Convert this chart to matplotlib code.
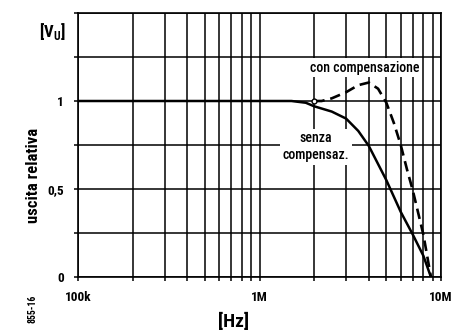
import matplotlib
matplotlib.use("Agg")
import matplotlib.pyplot as plt
import matplotlib.ticker as ticker
import matplotlib.font_manager as fm

# curve without compensation (frequency in Hz, relative output)
freq_senza = [1e5, 1.5e6, 1.8e6, 2e6, 2.5e6, 3e6, 3.5e6, 4e6, 5e6, 6e6, 7e6, 8e6, 8.8e6]
val_senza = [1.0, 1.0, 0.99, 0.97, 0.94, 0.90, 0.83, 0.745, 0.55, 0.37, 0.24, 0.12, 0.0]

# curve with compensation
freq_con = [2e6, 2.2e6, 2.5e6, 3e6, 3.5e6, 4e6, 4.5e6, 5e6, 5.5e6, 6e6, 6.5e6, 7e6, 8e6, 8.8e6]
val_con = [1.0, 1.0, 1.015, 1.05, 1.09, 1.105, 1.07, 0.99, 0.875, 0.75, 0.61, 0.49, 0.24, 0.0]

x_tick_pos = [1e5, 1e6, 1e7]
x_tick_labels = ["100k", "1M", "10M"]
y_tick_pos = [0, 0.5, 1.0]
y_tick_labels = ["0", "0,5", "1"]

# pick a narrow font if one is around
available = {f.name for f in fm.fontManager.ttflist}
narrow = "DejaVu Sans"
for cand in ["Roboto Condensed", "Barlow Semi Condensed", "Liberation Sans Narrow",
             "Saira SemiCondensed", "Sofia Sans Condensed"]:
    if cand in available:
        narrow = cand
        break
FONT = [narrow, "DejaVu Sans"]
plt.rcParams["font.family"] = FONT
plt.rcParams["mathtext.fontset"] = "custom"
plt.rcParams["mathtext.rm"] = narrow + ":bold"

fig = plt.figure(figsize=(4.54, 3.31), dpi=100)
ax = fig.add_axes([78 / 454, 1 - 277 / 331, 363 / 454, 264 / 331])

ax.set_xscale("log")
ax.set_xlim(1e5, 1e7)
ax.set_ylim(0, 1.5)

ax.xaxis.set_major_locator(ticker.FixedLocator(x_tick_pos))
ax.xaxis.set_major_formatter(ticker.FixedFormatter(x_tick_labels))
ax.xaxis.set_minor_locator(ticker.LogLocator(base=10, subs=range(2, 10)))
ax.xaxis.set_minor_formatter(ticker.NullFormatter())
ax.yaxis.set_major_locator(ticker.FixedLocator(y_tick_pos))
ax.yaxis.set_major_formatter(ticker.FixedFormatter(y_tick_labels))
ax.yaxis.set_minor_locator(ticker.MultipleLocator(0.25))

ax.grid(which="both", color="black", linewidth=1.1)
ax.set_axisbelow(True)
for s in ax.spines.values():
    s.set_linewidth(1.2)
ax.tick_params(which="both", direction="out", length=3, width=1.1,
               labelsize=9.5, pad=7)
for lab in ax.get_xticklabels() + ax.get_yticklabels():
    lab.set_fontweight("bold")

ax.plot(freq_senza, val_senza, color="black", linewidth=1.8, zorder=3)
ax.plot(freq_con, val_con, color="black", linewidth=1.9,
        dashes=(4, 2.2), zorder=3)
ax.plot([2e6], [1.0], marker="o", markersize=3.5, markerfacecolor="white",
        markeredgecolor="black", markeredgewidth=1, zorder=4)

box = dict(facecolor="white", edgecolor="none", pad=2)
ax.text(3.8e6, 1.19, "con compensazione", ha="center", va="center",
        fontsize=10, fontweight="medium", bbox=box, zorder=2.5)
ax.text(2.05e6, 0.74, "senza\ncompensaz.", ha="center", va="center",
        fontsize=10, fontweight="medium", linespacing=1.25, bbox=box,
        zorder=2.5)

fig.text(52 / 454, 1 - 32 / 331, r"[V$_\mathregular{U}$]", ha="center",
         va="center", fontsize=12, fontweight="bold")
fig.text(33 / 454, 1 - 175 / 331, "uscita relativa", rotation=90,
         ha="center", va="center", fontsize=12, fontweight="bold")
fig.text(234 / 454, 1 - 322 / 331, "[Hz]", ha="center", va="center",
         fontsize=14, fontweight="bold")
fig.text(33 / 454, 1 - 309 / 331, "855-16", rotation=90, ha="center",
         va="center", fontsize=7, fontweight="bold")

fig.savefig("out.png", dpi=100)
